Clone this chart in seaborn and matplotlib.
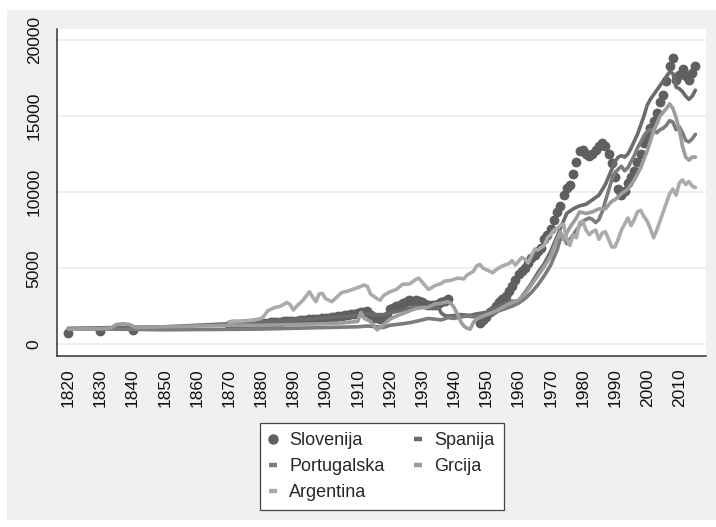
import matplotlib
matplotlib.use("Agg")
import matplotlib.pyplot as plt
from matplotlib.lines import Line2D
from matplotlib.patches import Rectangle
import seaborn as sns
import pandas as pd

# Slovenia: scattered points (benchmark years, then annual)
slo_years = [1820, 1830, 1840] + list(range(1870, 1939)) + list(range(1948, 2016))
slo_vals = [
    750, 870, 940,
    # 1870-1938
    1300, 1310, 1330, 1320, 1340, 1350, 1360, 1370, 1380, 1390,
    1400, 1420, 1430, 1440, 1460, 1470, 1480, 1500, 1510, 1530,
    1550, 1560, 1580, 1600, 1620, 1640, 1650, 1670, 1690, 1710,
    1730, 1750, 1770, 1800, 1830, 1860, 1900, 1940, 1980, 2020,
    2060, 2100, 2150, 2200, 1900, 1750, 1700, 1650, 1700, 1850,
    2300, 2400, 2500, 2600, 2700, 2800, 2900, 2850, 2900, 2850,
    2750, 2650, 2550, 2550, 2580, 2650, 2750, 2850, 2950,
    # 1948-2015
    1400, 1600, 1800, 2100, 2250, 2500, 2800, 3000, 3200, 3500,
    3800, 4200, 4600, 4800, 5000, 5350, 5700, 5900, 6100, 6300,
    6900, 7200, 7600, 8200, 8700, 9100, 9800, 10300, 10500, 11200,
    12000, 12700, 12800, 12500, 12400, 12500, 12800, 13000, 13200, 13000,
    12500, 11900, 11000, 10200, 9800, 10100, 10600, 11000, 11400, 12000,
    12500, 13200, 13700, 14200, 14700, 15200, 15900, 16400, 17300, 18300,
    18800, 17400, 17700, 18100, 17600, 17400, 17800, 18300,
]

spa_years = [1820, 1830, 1840, 1850, 1860, 1870, 1875, 1880, 1885, 1890, 1895, 1900, 1905, 1910,
             1913, 1915, 1918, 1920, 1923, 1926, 1929, 1930, 1932, 1934, 1935, 1936, 1937, 1938,
             1940, 1942, 1945, 1947, 1950, 1952, 1954, 1956, 1958, 1959, 1960, 1962, 1964, 1966,
             1968, 1970, 1972, 1974, 1975, 1977, 1979, 1981, 1983, 1985, 1987, 1989, 1990, 1991,
             1992, 1993, 1994, 1995, 1997, 1999, 2000, 2001, 2002, 2003, 2004, 2005, 2006, 2007,
             2008, 2009, 2010, 2011, 2012, 2013, 2014, 2015]
spa_vals = [1050, 1080, 1120, 1150, 1250, 1350, 1400, 1500, 1530, 1600, 1650, 1750, 1800, 1900,
            2000, 1950, 1950, 2050, 2200, 2350, 2500, 2450, 2400, 2400, 2450, 2050, 1900, 1850,
            1900, 1950, 1900, 2000, 2100, 2350, 2500, 2700, 2850, 2800, 2850, 3400, 4000, 4700,
            5300, 6100, 7100, 8100, 8600, 8900, 9100, 9200, 9500, 9800, 10500, 11500, 12000, 12300,
            12400, 12300, 12500, 12900, 13800, 15000, 15700, 16100, 16400, 16700, 17000, 17300, 17600, 17900,
            17800, 16900, 16800, 16600, 16300, 16100, 16300, 16700]

por_years = [1820, 1830, 1840, 1850, 1860, 1870, 1880, 1890, 1900, 1910, 1913, 1916, 1918, 1920,
             1924, 1927, 1930, 1932, 1934, 1936, 1938, 1940, 1942, 1944, 1946, 1948, 1950, 1952,
             1954, 1956, 1958, 1960, 1962, 1964, 1966, 1968, 1970, 1972, 1973, 1974, 1975, 1976,
             1978, 1980, 1982, 1983, 1984, 1985, 1986, 1987, 1988, 1989, 1990, 1991, 1992, 1993,
             1994, 1995, 1996, 1997, 1998, 1999, 2000, 2001, 2002, 2003, 2004, 2005, 2006, 2007,
             2008, 2009, 2010, 2011, 2012, 2013, 2014, 2015]
por_vals = [1000, 1000, 980, 950, 970, 980, 1000, 1050, 1100, 1150, 1200, 1150, 1100, 1250,
            1350, 1450, 1600, 1700, 1650, 1600, 1750, 1700, 1800, 1850, 1800, 1850, 1900, 2050,
            2200, 2350, 2500, 2700, 3000, 3400, 3900, 4500, 5200, 6200, 6900, 7100, 6600, 6900,
            7500, 8100, 8300, 8200, 8000, 8200, 8700, 9400, 10100, 10800, 11300, 11500, 11700, 11400,
            11600, 12000, 12400, 12900, 13300, 13700, 14000, 14100, 14100, 13900, 14100, 14200, 14400, 14700,
            14600, 14100, 14300, 13900, 13400, 13300, 13500, 13800]

gre_years = [1820, 1830, 1833, 1835, 1837, 1839, 1841, 1850, 1860, 1870, 1880, 1890, 1900, 1905,
             1910, 1911, 1912, 1914, 1916, 1917, 1920, 1922, 1925, 1928, 1930, 1932, 1934, 1936,
             1938, 1939, 1940, 1941, 1942, 1943, 1944, 1945, 1946, 1947, 1948, 1950, 1952, 1954,
             1956, 1958, 1960, 1962, 1964, 1966, 1968, 1970, 1972, 1973, 1974, 1976, 1978, 1979,
             1981, 1983, 1985, 1987, 1989, 1990, 1992, 1994, 1996, 1998, 2000, 2002, 2004, 2006,
             2007, 2008, 2009, 2010, 2011, 2012, 2013, 2014, 2015]
gre_vals = [1000, 1030, 1050, 1300, 1350, 1300, 1100, 1150, 1200, 1250, 1250, 1300, 1350, 1400,
            1500, 2100, 1700, 1500, 950, 1100, 1650, 1850, 2100, 2350, 2400, 2450, 2650, 2700,
            2800, 2700, 2400, 2000, 1500, 1200, 1050, 1000, 1450, 1650, 1750, 1950, 2100, 2300,
            2550, 2750, 2900, 3300, 3900, 4500, 5100, 5800, 6900, 7400, 6900, 7700, 8300, 8700,
            8600, 8700, 8900, 8900, 9400, 9500, 9900, 10200, 10800, 11600, 12700, 14000, 15000, 15500,
            15800, 15500, 14900, 14100, 13000, 12300, 12100, 12300, 12300]

arg_years = [1870, 1872, 1875, 1878, 1880, 1881, 1882, 1884, 1886, 1888, 1889, 1890, 1891, 1893,
             1895, 1896, 1897, 1898, 1899, 1900, 1902, 1903, 1905, 1907, 1909, 1911, 1912, 1913,
             1914, 1916, 1917, 1918, 1920, 1922, 1924, 1926, 1928, 1929, 1930, 1932, 1934, 1936,
             1937, 1939, 1941, 1943, 1944, 1946, 1947, 1948, 1949, 1950, 1952, 1953, 1955, 1957,
             1958, 1959, 1961, 1962, 1963, 1964, 1965, 1966, 1968, 1969, 1970, 1971, 1972, 1973,
             1974, 1975, 1976, 1977, 1978, 1979, 1980, 1981, 1982, 1983, 1984, 1985, 1986, 1987,
             1988, 1989, 1990, 1991, 1992, 1993, 1994, 1995, 1996, 1997, 1998, 1999, 2000, 2001,
             2002, 2003, 2004, 2005, 2006, 2007, 2008, 2009, 2010, 2011, 2012, 2013, 2014, 2015]
arg_vals = [1450, 1500, 1550, 1600, 1700, 1900, 2200, 2400, 2500, 2750, 2600, 2250, 2500, 2900,
            3450, 3100, 2800, 3300, 3350, 3000, 2800, 3000, 3400, 3500, 3650, 3800, 3900, 3800,
            3300, 3000, 2900, 3200, 3450, 3600, 3950, 3950, 4250, 4350, 4100, 3600, 3850, 4000,
            4150, 4200, 4350, 4300, 4550, 4800, 5150, 5250, 5000, 4900, 4700, 4900, 5150, 5300,
            5500, 5200, 5700, 5600, 5350, 5800, 6250, 6200, 6500, 7000, 7200, 7500, 7600, 7800,
            7900, 6900, 6500, 7200, 7000, 8000, 8100, 7500, 7200, 7400, 7500, 6900, 7300, 7400,
            6900, 6400, 6400, 6900, 7500, 7900, 8300, 7800, 8200, 8700, 8800, 8400, 8100, 7600,
            7000, 7500, 8100, 8700, 9300, 9900, 10200, 9800, 10600, 10800, 10500, 10700, 10400, 10300]

colors = {
    "Slovenija": "#5f5f5f",
    "Spanija": "#6b6b6b",
    "Portugalska": "#7c7c7c",
    "Grcija": "#9d9d9d",
    "Argentina": "#ababab",
}

sns.set_style("white")
plt.rcParams["font.family"] = ["Liberation Sans", "DejaVu Sans"]

fig = plt.figure(figsize=(7.16, 5.27), dpi=100)
fig.patch.set_facecolor("white")
fig.patches.append(Rectangle((7 / 716, 7 / 527), 1 - 7 / 716, 1 - 17 / 527,
                             transform=fig.transFigure, facecolor="#eff0f2",
                             edgecolor="none", zorder=-10))

ax = fig.add_axes([57 / 716, 1 - 356 / 527, (706 - 57) / 716, (356 - 29) / 527])
ax.set_facecolor("white")

sns.scatterplot(x=slo_years, y=slo_vals, ax=ax, color=colors["Slovenija"],
                s=50, linewidth=0, zorder=3)

lines = [
    ("Spanija", spa_years, spa_vals),
    ("Portugalska", por_years, por_vals),
    ("Grcija", gre_years, gre_vals),
    ("Argentina", arg_years, arg_vals),
]
for name, yrs, vals in lines:
    df = pd.DataFrame({"year": yrs, "gdp": vals})
    sns.lineplot(data=df, x="year", y="gdp", ax=ax, color=colors[name],
                 linewidth=2.6, zorder=4)

ax.set_xlim(1816.5, 2018.3)
ax.set_ylim(-770, 20720)
ax.set_xticks(range(1820, 2011, 10))
ax.set_yticks([0, 5000, 10000, 15000, 20000])
ax.set_xlabel("")
ax.set_ylabel("")
ax.grid(axis="y", color="#ececec", linewidth=1.2)
ax.set_axisbelow(True)

for side in ["top", "right"]:
    ax.spines[side].set_visible(False)
for side in ["left", "bottom"]:
    ax.spines[side].set_color("#333333")
    ax.spines[side].set_linewidth(1.1)

ax.tick_params(axis="both", direction="out", length=7, width=1.0, color="#333333",
               labelsize=12.5, labelcolor="#111111")
ax.tick_params(axis="x", pad=2)
ax.tick_params(axis="y", pad=4)
plt.setp(ax.get_xticklabels(), rotation=90)
plt.setp(ax.get_yticklabels(), rotation=90, va="center")

handles = [
    Line2D([], [], color=colors["Slovenija"], marker="o", linestyle="none", markersize=6.5),
    Line2D([], [], color=colors["Portugalska"], linewidth=3.2, solid_capstyle="butt"),
    Line2D([], [], color=colors["Argentina"], linewidth=3.2, solid_capstyle="butt"),
    Line2D([], [], color=colors["Spanija"], linewidth=3.2, solid_capstyle="butt"),
    Line2D([], [], color=colors["Grcija"], linewidth=3.2, solid_capstyle="butt"),
]
labels = ["Slovenija", "Portugalska", "Argentina", "Spanija", "Grcija"]
leg = fig.legend(handles, labels, ncol=2, loc="center",
                 bbox_to_anchor=(382 / 716, 1 - 466.5 / 527),
                 fontsize=13, frameon=True, fancybox=False, framealpha=1,
                 edgecolor="#444444", handlelength=0.4, handletextpad=0.7,
                 columnspacing=1.65, labelspacing=0.5, borderpad=0.5)
leg.get_frame().set_linewidth(0.9)

fig.savefig("out.png", dpi=100)
